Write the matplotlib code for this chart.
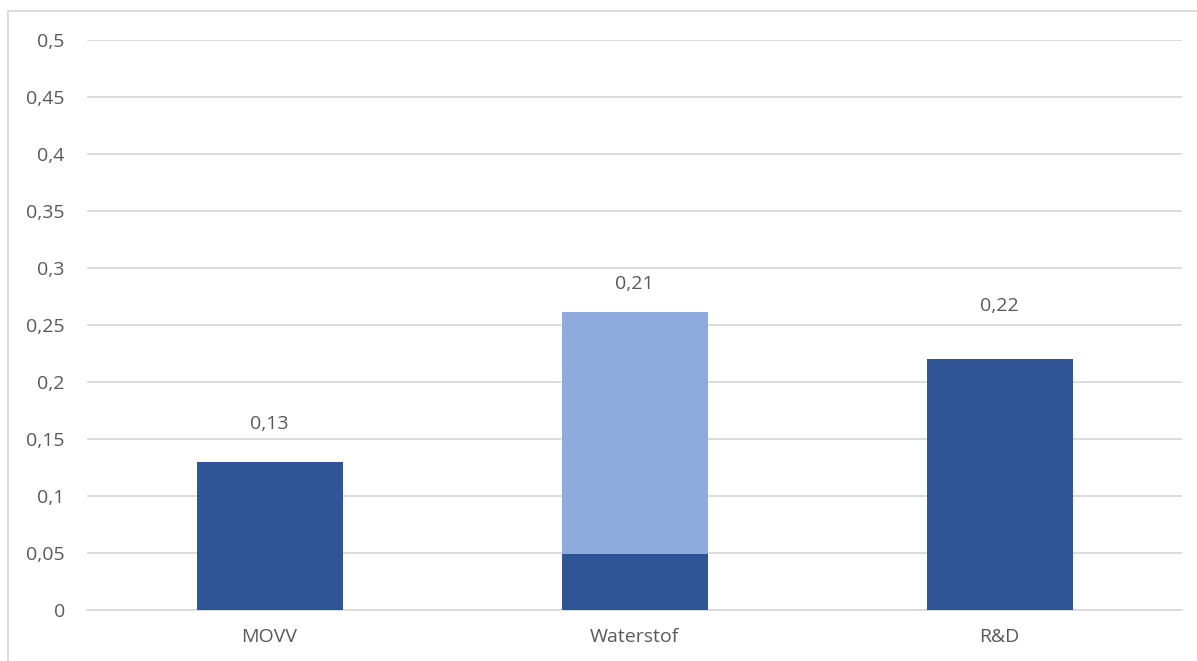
import matplotlib.pyplot as plt
from matplotlib.patches import Rectangle

plt.rcParams['font.family'] = ['Open Sans', 'DejaVu Sans']

categories = ["MOVV", "Waterstof", "R&D"]
dark_values = [0.13, 0.049, 0.22]
light_values = [0.0, 0.212, 0.0]
label_texts = ["0,13", "0,21", "0,22"]
label_y = [0.163, 0.286, 0.267]

yticks = [0, 0.05, 0.1, 0.15, 0.2, 0.25, 0.3, 0.35, 0.4, 0.45, 0.5]
ytick_labels = ["0", "0,05", "0,1", "0,15", "0,2", "0,25", "0,3", "0,35", "0,4", "0,45", "0,5"]

dark = "#2F5597"
light = "#8FAADC"
text_col = "#595959"
grid_col = "#D9D9D9"

fig = plt.figure(figsize=(11.97, 6.61), dpi=100)
ax = fig.add_axes([0.0727, 0.0772, 0.9148, 0.8623])

x = range(len(categories))
ax.bar(x, dark_values, width=0.4, color=dark, zorder=3)
ax.bar(x, light_values, width=0.4, bottom=dark_values, color=light, zorder=3)

for i, (t, y) in enumerate(zip(label_texts, label_y)):
    ax.text(i, y, t, ha="center", va="center", fontsize=14, color=text_col)

ax.set_xlim(-0.5, 2.5)
ax.set_ylim(0, 0.5)
ax.set_yticks(yticks)
ax.set_yticklabels(ytick_labels)
ax.set_xticks(list(x))
ax.set_xticklabels(categories)
ax.tick_params(axis="both", length=0, labelsize=14, labelcolor=text_col)
ax.tick_params(axis="y", pad=16)
ax.tick_params(axis="x", pad=13)
ax.yaxis.grid(True, color=grid_col, linewidth=1.3, zorder=0)
ax.set_axisbelow(True)
for s in ax.spines.values():
    s.set_visible(False)
ax.axhline(0, color=grid_col, linewidth=1.3, zorder=2, clip_on=False)

# outer chart border
fig.patches.append(Rectangle((8 / 1197, -0.01), 1.02, 1 - 11 / 661 + 0.01,
                             transform=fig.transFigure, fill=False,
                             edgecolor="#D9D9D9", linewidth=1.3))

fig.savefig("out.png", dpi=100)
